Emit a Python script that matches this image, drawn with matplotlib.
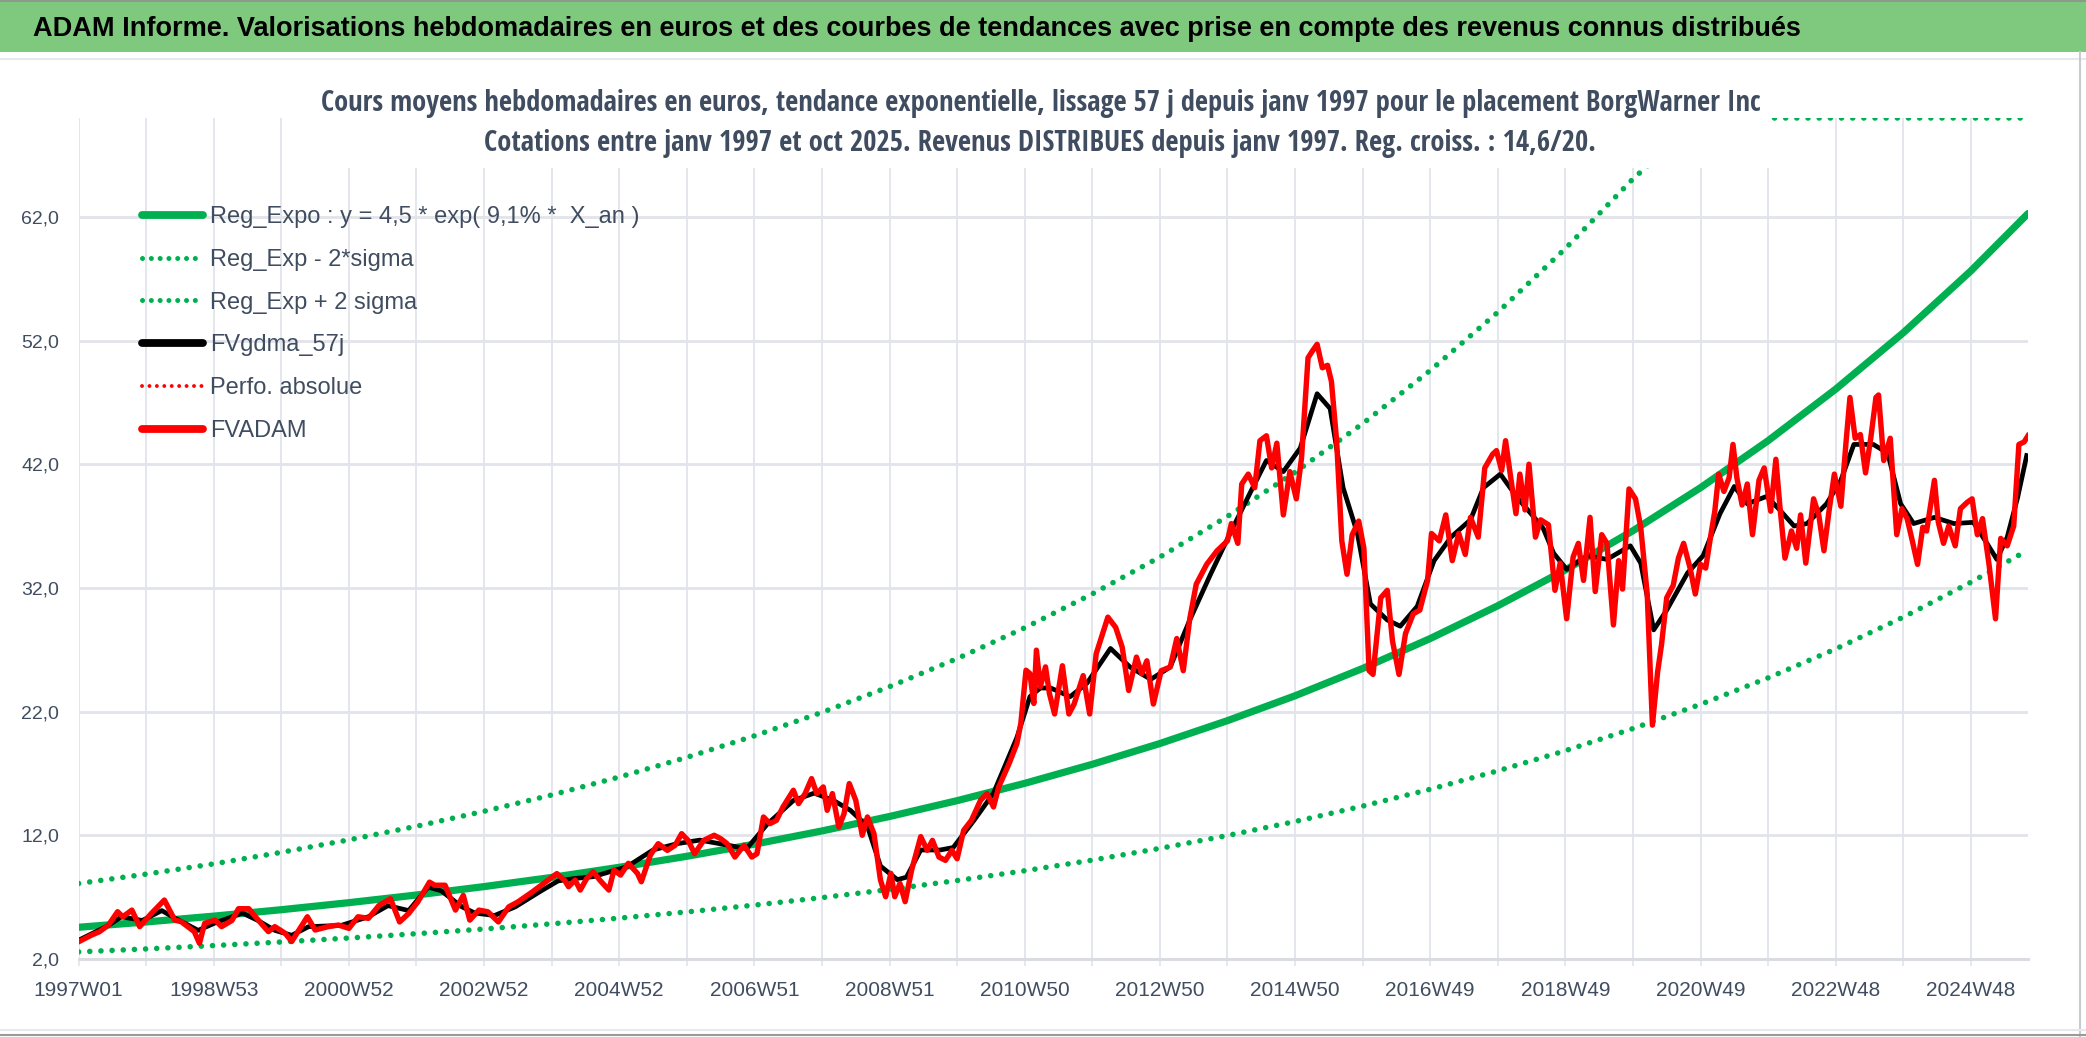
import matplotlib
matplotlib.use("Agg")
import matplotlib.pyplot as plt
from matplotlib.font_manager import FontProperties
from matplotlib.lines import Line2D
from matplotlib.patches import Rectangle
import numpy as np

# ---- data ----
# weekly index (0 = 1997W01)
trend_x = [0, 52, 104, 156, 208, 260, 312, 364, 416, 468, 520, 572, 624, 676, 728,
           780, 832, 884, 936, 988, 1040, 1092, 1144, 1196, 1248, 1300, 1352, 1404,
           1456, 1500]
reg_expo = [4.55, 4.98, 5.45, 5.97, 6.54, 7.16, 7.84, 8.58, 9.40, 10.29, 11.27, 12.34,
            13.51, 14.79, 16.19, 17.73, 19.41, 21.26, 23.27, 25.48, 27.90, 30.55,
            33.45, 36.62, 40.10, 43.90, 48.07, 52.63, 57.63, 62.27]
reg_lo = [2.56, 2.80, 3.07, 3.36, 3.68, 4.03, 4.41, 4.83, 5.29, 5.79, 6.34, 6.95, 7.61,
          8.33, 9.12, 9.98, 10.93, 11.97, 13.10, 14.35, 15.71, 17.20, 18.83, 20.62,
          22.58, 24.72, 27.06, 29.63, 32.45, 35.06]
reg_hi = [8.09, 8.85, 9.68, 10.61, 11.62, 12.72, 13.93, 15.25, 16.70, 18.29, 20.03,
          21.93, 24.01, 26.28, 28.77, 31.51, 34.49, 37.78, 41.35, 45.28, 49.58, 54.29,
          59.44, 65.07, 71.26, 78.01, 85.42, 93.52, 102.41, 110.65]

fvadam_x = [0, 10, 16, 23, 30, 34, 41, 47, 56, 66, 74, 79, 84, 89, 93, 97, 105, 110,
            118, 123, 131, 136, 146, 151, 159, 164, 176, 182, 192, 200, 208, 215, 223,
            231, 240, 247, 254, 261, 270, 274, 282, 290, 296, 301, 308, 315, 323, 331,
            338, 349, 356, 368, 374, 377, 382, 386, 391, 396, 401, 408, 412, 417, 423,
            430, 433, 440, 446, 453, 459, 464, 469, 474, 481, 489, 494, 499, 505, 512,
            518, 522, 527, 532, 537, 542, 550, 554, 559, 564, 568, 573, 576, 580, 585,
            589, 593, 598, 603, 607, 612, 617, 621, 625, 628, 632, 636, 641, 648, 653,
            657, 662, 667, 672, 676, 681, 687, 694, 699, 704, 708, 716, 722, 725, 729,
            732, 735, 737, 740, 744, 747, 751, 757, 762, 766, 773, 778, 783, 792, 798,
            803, 808, 814, 818, 822, 827, 833, 840, 845, 850, 855, 860, 868, 876, 884,
            887, 892, 895, 900, 905, 909, 914, 918, 922, 927, 932, 937, 941, 946, 949,
            953, 957, 961, 964, 968, 972, 976, 980, 985, 989, 993, 996, 1002, 1007,
            1011, 1016, 1021, 1027, 1032, 1038, 1041, 1047, 1052, 1057, 1062, 1067,
            1071, 1077, 1082, 1088, 1091, 1095, 1098, 1102, 1106, 1109, 1113, 1116,
            1121, 1125, 1131, 1136, 1140, 1145, 1150, 1154, 1158, 1163, 1167, 1172,
            1176, 1181, 1185, 1188, 1193, 1198, 1202, 1207, 1211, 1215, 1218, 1222,
            1227, 1231, 1235, 1240, 1244, 1248, 1252, 1256, 1259, 1262, 1266, 1270,
            1273, 1276, 1280, 1284, 1288, 1293, 1297, 1302, 1306, 1309, 1313, 1318,
            1322, 1325, 1329, 1335, 1339, 1343, 1347, 1351, 1356, 1360, 1363, 1367,
            1371, 1375, 1379, 1383, 1385, 1389, 1394, 1399, 1403, 1407, 1411, 1415,
            1419, 1422, 1428, 1431, 1435, 1439, 1444, 1448, 1453, 1457, 1461, 1465,
            1470, 1475, 1479, 1484, 1489, 1493, 1497, 1500]
fvadam = [3.38, 3.92, 4.19, 4.73, 5.81, 5.4, 5.94, 4.6, 5.67, 6.75, 5.13, 5.0, 4.6, 4.2,
          3.25, 4.87, 5.13, 4.6, 5.1, 6.05, 6.05, 5.4, 4.2, 4.6, 4.06, 3.4, 5.4, 4.33,
          4.6, 4.73, 4.46, 5.4, 5.27, 6.3, 6.86, 4.98, 5.67, 6.6, 8.2, 7.95, 7.95, 5.94,
          7.13, 5.13, 5.94, 5.8, 4.98, 6.2, 6.6, 7.4, 7.95, 8.89, 8.35, 7.83, 8.37, 7.56,
          8.5, 9.04, 8.37, 7.56, 9.18, 8.77, 9.72, 8.91, 8.23, 10.4, 11.31, 10.77, 11.18,
          12.12, 11.58, 10.5, 11.58, 11.99, 11.72, 11.31, 10.23, 11.18, 10.23, 10.5,
          13.47, 12.93, 13.2, 14.28, 15.63, 14.55, 15.36, 16.57, 15.36, 15.9, 14.01,
          15.36, 12.66, 13.74, 16.17, 14.82, 11.99, 13.47, 12.12, 8.37, 7.02, 8.91, 7.02,
          8.1, 6.62, 9.18, 11.88, 10.77, 11.58, 10.23, 9.96, 10.77, 10.09, 12.39, 13.2,
          14.82, 15.36, 14.28, 15.9, 17.79, 19.41, 21.03, 25.34, 25.07, 22.65, 26.96,
          24.0, 25.61, 23.46, 21.8, 25.7, 21.8, 22.6, 24.9, 21.8, 26.67, 29.63, 28.8,
          27.2, 23.7, 26.4, 25.05, 26.1, 22.6, 25.3, 25.6, 27.9, 25.3, 29.5, 32.3, 33.9,
          35.0, 35.8, 37.2, 35.6, 40.4, 41.2, 40.1, 43.9, 44.3, 41.7, 43.7, 37.9, 41.4,
          39.2, 42.5, 50.6, 51.1, 51.7, 49.8, 50.0, 48.7, 43.9, 35.8, 33.1, 36.3, 37.4,
          35.2, 25.3, 25.0, 31.2, 31.8, 27.7, 25.0, 28.3, 29.9, 30.2, 32.6, 36.4, 35.8,
          37.9, 34.2, 36.4, 34.7, 37.7, 36.1, 41.7, 42.8, 43.1, 41.5, 43.9, 40.9, 38.0,
          41.2, 38.3, 42.0, 36.1, 37.5, 37.1, 31.8, 34.0, 29.5, 34.5, 35.6, 32.6, 37.7,
          31.7, 36.3, 35.6, 29.0, 34.2, 31.9, 40.0, 39.2, 36.9, 31.5, 20.9, 25.2, 27.4,
          31.2, 32.2, 34.4, 35.6, 33.6, 31.5, 33.9, 33.6, 36.3, 38.2, 41.2, 39.8, 40.9,
          43.6, 40.9, 38.7, 40.4, 36.3, 40.7, 41.7, 38.2, 42.4, 38.7, 34.4, 36.6, 35.2,
          37.9, 34.0, 39.2, 37.9, 35.0, 38.3, 41.2, 38.6, 43.8, 47.4, 44.1, 44.4, 41.3,
          44.1, 47.4, 47.6, 42.3, 44.1, 36.3, 38.4, 37.6, 35.8, 33.9, 36.9, 36.6, 40.7,
          37.3, 35.6, 37.0, 35.4, 38.4, 38.9, 39.2, 36.3, 37.6, 33.9, 29.5, 36.0, 35.4,
          37.0, 43.6, 43.8, 44.3]

gdma_x = [0, 23, 33, 49, 64, 74, 92, 105, 126, 138, 151, 164, 177, 202, 223, 238, 254,
          269, 279, 295, 305, 320, 336, 356, 369, 382, 396, 422, 442, 460, 478, 499,
          514, 530, 550, 566, 581, 594, 607, 617, 630, 637, 648, 663, 673, 689, 704,
          722, 732, 740, 748, 763, 776, 794, 809, 825, 840, 855, 871, 886, 902, 914,
          927, 940, 953, 963, 973, 984, 994, 1007, 1017, 1030, 1043, 1056, 1071, 1081,
          1094, 1107, 1120, 1127, 1135, 1145, 1161, 1176, 1194, 1202, 1212, 1222, 1238,
          1250, 1263, 1274, 1284, 1299, 1309, 1320, 1330, 1345, 1356, 1366, 1381, 1392,
          1402, 1412, 1428, 1443, 1458, 1469, 1476, 1484, 1492, 1499]
fvgdma = [3.5, 4.7, 5.4, 5.1, 5.9, 5.3, 4.3, 4.9, 5.7, 5.1, 4.3, 3.9, 4.6, 4.7, 5.4,
          6.3, 5.9, 7.8, 7.5, 6.2, 5.7, 5.5, 6.2, 7.5, 8.3, 8.5, 8.64, 9.45, 10.8, 11.3,
          11.6, 11.2, 10.9, 12.9, 14.8, 15.4, 14.8, 14.0, 12.7, 9.5, 8.4, 8.6, 10.8,
          10.8, 11.0, 13.2, 15.4, 19.9, 23.2, 23.9, 23.9, 23.2, 24.3, 27.1, 25.6, 24.6,
          25.6, 29.4, 33.1, 36.4, 39.8, 42.3, 41.4, 43.3, 47.7, 46.5, 40.1, 36.4, 30.7,
          29.4, 28.9, 30.5, 34.2, 36.1, 37.5, 40.1, 41.2, 39.3, 37.7, 36.8, 34.8, 33.5,
          34.6, 34.3, 35.4, 34.0, 28.6, 30.2, 33.2, 34.6, 38.0, 40.2, 38.8, 39.4, 38.3,
          37.0, 37.2, 38.8, 40.7, 43.6, 43.6, 42.9, 38.8, 37.2, 37.7, 37.2, 37.3, 35.5,
          34.3, 36.1, 39.3, 42.7]

week_ticks = list(range(0, 1501, 52))
week_labels = ["1997W01", "", "1998W53", "", "2000W52", "", "2002W52", "", "2004W52", "",
               "2006W51", "", "2008W51", "", "2010W50", "", "2012W50", "", "2014W50", "",
               "2016W49", "", "2018W49", "", "2020W49", "", "2022W48", "", "2024W48"]
y_ticks = [2, 12, 22, 32, 42, 52, 62]
y_labels = ["2,0", "12,0", "22,0", "32,0", "42,0", "52,0", "62,0"]

series_names = ["Reg_Expo : y = 4,5 * exp( 9,1% *  X_an )", "Reg_Exp - 2*sigma",
                "Reg_Exp + 2 sigma", "FVgdma_57j", "Perfo. absolue", "FVADAM"]
title = ("ADAM Informe. Valorisations hebdomadaires en euros et des courbes de tendances "
         "avec prise en compte des revenus connus distribués")
sub1 = ("Cours moyens hebdomadaires en euros, tendance exponentielle, lissage 57 j depuis "
        "janv 1997 pour le placement BorgWarner Inc")
sub2 = ("Cotations entre janv 1997 et oct 2025. Revenus DISTRIBUES depuis janv 1997. "
        "Reg. croiss. : 14,6/20.")

# ---- styling ----
W, H = 2086, 1037
TXT = "#404D60"
GRID = "#E1E4EA"
GREEN = "#00B050"
RED = "#FF0000"
YMAX = 70
SANS = ["Liberation Sans", "DejaVu Sans"]

narrow_bold = FontProperties(family=["Open Sans Condensed", "DejaVu Sans"],
                             stretch="condensed", weight="bold", size=19)

fig = plt.figure(figsize=(W / 100, H / 100), dpi=100)
fig.patch.set_facecolor("white")

left, right, top, bottom = 78.6, 2028, 118, 958.8
ax = fig.add_axes([left / W, 1 - bottom / H, (right - left) / W, (bottom - top) / H])
ax.set_xlim(0, 1500)
ax.set_ylim(2, YMAX)

for s in ["left", "right", "top"]:
    ax.spines[s].set_visible(False)
ax.spines["bottom"].set_color("#D9DCE1")
ax.spines["bottom"].set_linewidth(2.2)

ax.set_xticks(week_ticks)
ax.set_xticklabels(week_labels, family=SANS, fontsize=15, color=TXT)
ax.set_yticks(y_ticks)
ax.set_yticklabels(y_labels, family=SANS, fontsize=14, color=TXT)
ax.tick_params(axis="x", length=5, width=1.2, color=GRID, pad=11)
ax.tick_params(axis="y", length=0, pad=14)
ax.grid(True, axis="x", color=GRID, linewidth=1.3)
ax.grid(True, axis="y", color=GRID, linewidth=2.0)
ax.set_axisbelow(True)

dots = (0, (0.01, 2.0))
ax.plot(trend_x, reg_expo, color=GREEN, lw=5.2, solid_capstyle="round", zorder=2)
ax.plot(trend_x, reg_lo, color=GREEN, lw=4.0, ls=dots, dash_capstyle="round", zorder=2)
ax.plot(trend_x, np.minimum(reg_hi, YMAX), color=GREEN, lw=4.0, ls=dots,
        dash_capstyle="round", zorder=2)
ax.plot(gdma_x, fvgdma, color="black", lw=3.4, solid_joinstyle="round", zorder=3)
ax.plot(fvadam_x, fvadam, color=RED, lw=3.9, solid_joinstyle="round", zorder=4)

handles = [
    Line2D([], [], color=GREEN, lw=5.6, solid_capstyle="round"),
    Line2D([], [], color=GREEN, lw=3.6, ls=(0, (0.01, 1.75)), dash_capstyle="round"),
    Line2D([], [], color=GREEN, lw=3.6, ls=(0, (0.01, 1.75)), dash_capstyle="round"),
    Line2D([], [], color="black", lw=5.6, solid_capstyle="round"),
    Line2D([], [], color=RED, lw=2.8, ls=(0, (0.01, 1.9)), dash_capstyle="round"),
    Line2D([], [], color=RED, lw=5.6, solid_capstyle="round"),
]
leg = ax.legend(handles, series_names, loc="upper left",
                bbox_to_anchor=(142 / W, 1 - 206 / H), bbox_transform=fig.transFigure,
                frameon=False, borderpad=0, borderaxespad=0, handlelength=2.6,
                handletextpad=0.27, labelspacing=0.88,
                prop={"family": SANS, "size": 17})
for t in leg.get_texts():
    t.set_color(TXT)

# title bar and frame
fig.add_artist(Rectangle((0, 1 - 52 / H), 1, 52 / H, transform=fig.transFigure,
                         facecolor="#7FC97F", edgecolor="none", zorder=5))
fig.add_artist(Line2D([0, 1], [1 - 1 / H, 1 - 1 / H], transform=fig.transFigure,
                      color="#8C9A8C", lw=1.5, zorder=6))
fig.add_artist(Line2D([0, 1], [1 - 59 / H, 1 - 59 / H], transform=fig.transFigure,
                      color="#E6E8EC", lw=1.5, zorder=6))
fig.add_artist(Line2D([2080 / W, 2080 / W], [0, 1 - 52 / H], transform=fig.transFigure,
                      color="#C8CACE", lw=1.5, zorder=6))
fig.add_artist(Line2D([0, 1], [1 - 1030 / H, 1 - 1030 / H], transform=fig.transFigure,
                      color="#E6E8EC", lw=1.5, zorder=6))
fig.add_artist(Line2D([0, 1], [1 - 1035 / H, 1 - 1035 / H], transform=fig.transFigure,
                      color="#9A9A9A", lw=1.5, zorder=6))

# white box of the chart title, over the top of the plot area
fig.add_artist(Rectangle((300 / W, 1 - 168 / H), 1470 / W, 108 / H,
                         transform=fig.transFigure, facecolor="white",
                         edgecolor="none", zorder=5))

t0 = fig.text(33 / W, 1 - 29 / H, title, ha="left", va="center", fontsize=19,
              fontweight="bold", family=SANS, color="black", zorder=7)
t1 = fig.text(1041 / W, 1 - 104 / H, sub1, ha="center", va="center",
              fontproperties=narrow_bold, color=TXT, zorder=7)
t2 = fig.text(1040 / W, 1 - 144 / H, sub2, ha="center", va="center",
              fontproperties=narrow_bold.copy(), color=TXT, zorder=7)

renderer = fig.canvas.get_renderer()
for t, target in [(t0, 1773), (t1, 1443), (t2, 1113)]:
    w = t.get_window_extent(renderer).width
    t.set_fontsize(t.get_fontsize() * target / w)

fig.savefig("out.png", dpi=100)
